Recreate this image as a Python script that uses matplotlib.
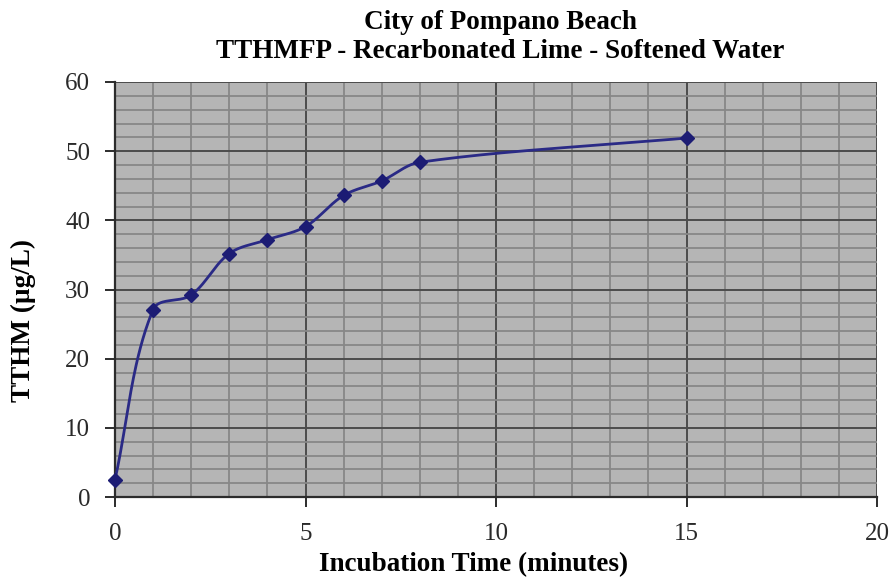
import numpy as np
import matplotlib
matplotlib.use("Agg")
import matplotlib.pyplot as plt
from matplotlib.ticker import MultipleLocator

# Data
time_min = [0, 1, 2, 3, 4, 5, 6, 7, 8, 15]
tthm = [2.5, 27.1, 29.2, 35.2, 37.2, 39.1, 43.6, 45.7, 48.4, 51.9]

title = "City of Pompano Beach\nTTHMFP - Recarbonated Lime - Softened Water"
xlabel = "Incubation Time (minutes)"
ylabel = "TTHM (\u00b5g/L)"

plt.rcParams['font.family'] = ['Liberation Serif', 'DejaVu Serif']

W, H = 889, 577
L, R, T, B = 115, 877, 82, 497

def smooth_curve(ax, x, y, n=40):
    # Excel-like smoothed line computed in display space, then mapped back
    pts = ax.transData.transform(np.column_stack([x, y]))
    m = len(pts)
    out = []
    for i in range(m - 1):
        p1, p2 = pts[i], pts[i + 1]
        p0 = pts[i - 1] if i > 0 else p1
        p3 = pts[i + 2] if i + 2 < m else p2
        d = np.linalg.norm(p2 - p1)
        t1 = p2 - p0
        t2 = p3 - p1
        t1 = t1 / np.linalg.norm(t1) if np.linalg.norm(t1) > 0 else t1
        t2 = t2 / np.linalg.norm(t2) if np.linalg.norm(t2) > 0 else t2
        c1 = p1 + t1 * d / 3.0
        c2 = p2 - t2 * d / 3.0
        t = np.linspace(0, 1, n)[:, None]
        seg = (1-t)**3*p1 + 3*(1-t)**2*t*c1 + 3*(1-t)*t**2*c2 + t**3*p2
        out.append(seg)
    out = np.vstack(out)
    data = ax.transData.inverted().transform(out)
    return data[:, 0], data[:, 1]

fig = plt.figure(figsize=(W/100, H/100), dpi=100)
ax = fig.add_axes([L/W, 1 - B/H, (R-L)/W, (B-T)/H])
ax.set_facecolor('#b5b5b5')

ax.set_xlim(0, 20)
ax.set_ylim(0, 60)
ax.xaxis.set_major_locator(MultipleLocator(5))
ax.xaxis.set_minor_locator(MultipleLocator(1))
ax.yaxis.set_major_locator(MultipleLocator(10))
ax.yaxis.set_minor_locator(MultipleLocator(2))

ax.grid(which='minor', color='#878787', linewidth=1.3)
ax.grid(which='major', color='#4c4c4c', linewidth=1.4)
ax.set_axisbelow(True)

sx, sy = smooth_curve(ax, time_min, tthm)
ax.plot(sx, sy, color='#2a2a86', linewidth=2.0, zorder=3, clip_on=False)
ax.plot(time_min, tthm, linestyle='none', marker='D', markersize=7.5,
        color='#1c1c74', zorder=4, clip_on=False)

for s in ['top', 'right']:
    ax.spines[s].set_visible(False)
for s in ['left', 'bottom']:
    ax.spines[s].set_color('#2c2c2c')
    ax.spines[s].set_linewidth(1.6)

ax.tick_params(which='major', direction='out', length=7, width=1.4,
               color='#2c2c2c', labelsize=18, labelcolor='#2a2a2a')
ax.tick_params(axis='y', pad=11)
ax.tick_params(axis='x', pad=12)
ax.tick_params(which='minor', length=0)

fig.text(500/W, 1 - 37/H, title, ha='center', va='center',
         fontsize=19.5, fontweight='bold', linespacing=1.2)
fig.text(474/W, 1 - 565/H, xlabel, ha='center', va='center',
         fontsize=19.5, fontweight='bold')
fig.text(23/W, 1 - 321/H, ylabel, ha='center', va='center',
         rotation=90, fontsize=19.5, fontweight='bold')

fig.savefig('out.png', dpi=100)
